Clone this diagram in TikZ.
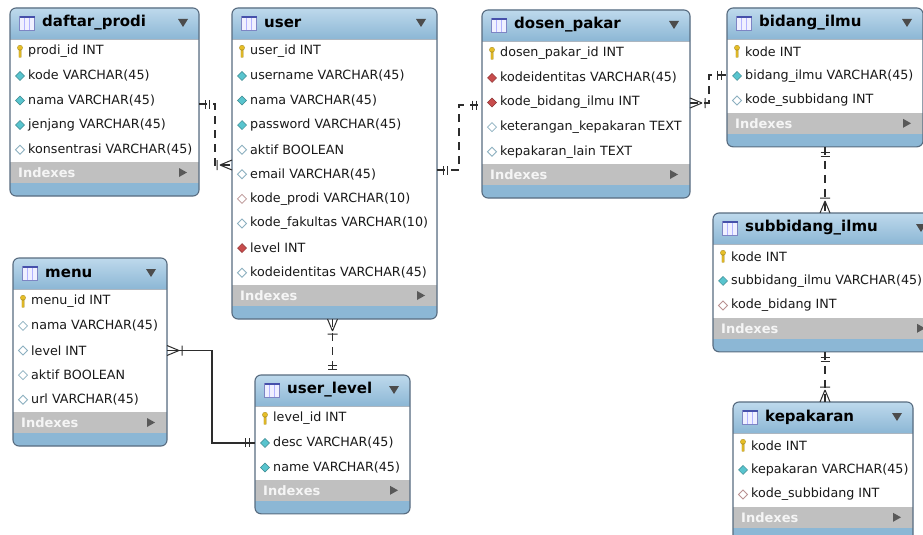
\documentclass[tikz,border=0pt]{standalone}
\usepackage{fontspec}
\setmainfont{DejaVu Sans}
\usetikzlibrary{calc}

\definecolor{hdtop}{RGB}{190,217,236}
\definecolor{hdbot}{RGB}{140,183,213}
\definecolor{frame}{RGB}{88,108,128}
\definecolor{idxbar}{RGB}{192,192,192}
\definecolor{keyc}{RGB}{230,190,40}
\definecolor{cyanc}{RGB}{88,196,206}
\definecolor{redc}{RGB}{200,76,76}
\definecolor{hollowc}{RGB}{140,176,192}
\definecolor{pinkc}{RGB}{186,146,146}
\definecolor{linec}{RGB}{45,45,45}
\definecolor{tblc}{RGB}{70,80,170}

\tikzset{
  tframe/.style={rectangle, fill=hdbot, inner sep=0pt, outer sep=0pt, rounded corners=6pt},
  rowtxt/.style={anchor=west, inner sep=0pt, font=\fontsize{12.7}{14}\selectfont, text=black!90},
  ttl/.style={anchor=west, inner sep=0pt, font=\fontsize{15}{17}\selectfont\bfseries},
  idx/.style={anchor=west, inner sep=0pt, font=\fontsize{13}{15}\selectfont\bfseries, text=white!96!black},
  rel/.style={draw=linec, line width=1.2pt, dash pattern=on 8pt off 6pt},
  idrel/.style={draw=linec, line width=1.2pt},
  % field icons
  ico-k/.pic={\fill[keyc, draw=keyc!70!black, line width=0.3pt] (0,-3.5) circle (2.6) (-1.1,-1.5) rectangle (1.1,6);},
  ico-c/.pic={\draw[cyanc!70!black, fill=cyanc, line width=0.5pt] (-4.5,0) -- (0,-4.5) -- (4.5,0) -- (0,4.5) -- cycle;},
  ico-o/.pic={\draw[hollowc, fill=white, line width=0.8pt] (-4.5,0) -- (0,-4.5) -- (4.5,0) -- (0,4.5) -- cycle;},
  ico-p/.pic={\draw[pinkc, fill=white, line width=0.8pt] (-4.5,0) -- (0,-4.5) -- (4.5,0) -- (0,4.5) -- cycle;},
  ico-r/.pic={\draw[redc!70!black, fill=redc, line width=0.5pt] (-4.5,0) -- (0,-4.5) -- (4.5,0) -- (0,4.5) -- cycle;},
  ico-tbl/.pic={
    \draw[tblc!70, fill=blue!6, line width=0.6pt] (-7.5,-7) rectangle (7.5,7);
    \fill[tblc] (-7.5,-7) rectangle (7.5,-5);
    \draw[blue!30, line width=0.6pt] (-2.5,-5) -- (-2.5,7) (2.5,-5) -- (2.5,7);},
  % relation ends
  one only/.pic={\draw[linec, line width=1pt] (-6,-4.5) -- (-6,4.5) (-10,-4.5) -- (-10,4.5);},
  one many/.pic={\draw[linec, line width=1pt] (-12,0) -- (0,-5) (-12,0) -- (0,5) (-15,-5) -- (-15,5);},
}

\begin{document}
\begin{tikzpicture}[x=1pt, y=-1pt]

  \useasboundingbox (0,0) rectangle (923,535);
  \clip (0,0) rectangle (923,535);
  \fill[white] (0,0) rectangle (923,535);

  % name, left, top, width, title, rows, fields
  \newcommand\tbl[7]{%
    \pgfmathsetmacro\tbh{31+#6*24.6+21+13}
    \pgfmathsetmacro\tbb{#3+31+#6*24.6}
    \node[tframe, minimum width=#4, minimum height=\tbh, anchor=north west] (#1) at (#2,#3) {};
    \shade[top color=hdtop, bottom color=hdbot] (#2,#3+31) [rounded corners=6pt] -- (#2,#3) -- (#2+#4,#3) [sharp corners] -- (#2+#4,#3+31) -- cycle;
    \fill[white] (#2,#3+31) rectangle (#2+#4,\tbb);
    \fill[idxbar] (#2,\tbb) rectangle (#2+#4,\tbb+21);
    \draw[frame!50, line width=0.5pt] (#2,#3+31) -- (#2+#4,#3+31);
    \pic at (#2+17,#3+15) {ico-tbl};
    \node[ttl] (#1-t) at (#2+32,#3+15) {#5};
    \fill[black!70] (#2+#4-21,#3+11) -- (#2+#4-11,#3+11) -- (#2+#4-16,#3+19) -- cycle;
    \foreach \ic/\tx [count=\i] in {#7} {
      \pic at (#2+10,{#3+31+(\i-0.5)*24.6}) {ico-\ic};
      \node[rowtxt] (#1-\i) at (#2+18,{#3+31+(\i-0.5)*24.6}) {\tx};
    }
    \node[idx] (#1-x) at (#2+8,\tbb+10.5) {Indexes};
    \fill[black!65] (#2+#4-20,\tbb+6) -- (#2+#4-20,\tbb+15) -- (#2+#4-12,\tbb+10.5) -- cycle;
    \draw[frame, line width=1.1pt, rounded corners=6pt] (#1.north west) rectangle (#1.south east);
  }

  \tbl{dp}{10}{8}{189}{daftar\_prodi}{5}{k/prodi\_id INT, c/kode VARCHAR(45), c/nama VARCHAR(45), c/jenjang VARCHAR(45), o/konsentrasi VARCHAR(45)}
  \tbl{u}{232}{8}{205}{user}{10}{k/user\_id INT, c/username VARCHAR(45), c/nama VARCHAR(45), c/password VARCHAR(45), o/aktif BOOLEAN, o/email VARCHAR(45), p/kode\_prodi VARCHAR(10), o/kode\_fakultas VARCHAR(10), r/level INT, o/kodeidentitas VARCHAR(45)}
  \tbl{dk}{482}{10}{208}{dosen\_pakar}{5}{k/dosen\_pakar\_id INT, r/kodeidentitas VARCHAR(45), r/kode\_bidang\_ilmu INT, o/keterangan\_kepakaran TEXT, o/kepakaran\_lain TEXT}
  \tbl{bi}{727}{8}{196}{bidang\_ilmu}{3}{k/kode INT, c/bidang\_ilmu VARCHAR(45), o/kode\_subbidang INT}
  \tbl{sb}{713}{213}{224}{subbidang\_ilmu}{3}{k/kode INT, c/subbidang\_ilmu VARCHAR(45), p/kode\_bidang INT}
  \tbl{kp}{733}{402}{180}{kepakaran}{3}{k/kode INT, c/kepakaran VARCHAR(45), p/kode\_subbidang INT}
  \tbl{mn}{13}{258}{154}{menu}{5}{k/menu\_id INT, o/nama VARCHAR(45), o/level INT, o/aktif BOOLEAN, o/url VARCHAR(45)}
  \tbl{ul}{255}{375}{155}{user\_level}{3}{k/level\_id INT, c/desc VARCHAR(45), c/name VARCHAR(45)}

  % relation end points
  \coordinate (dp-u) at ($(dp.north east)+(0,96)$);
  \coordinate (u-dp) at ($(u.north west)+(0,157)$);
  \coordinate (u-dk) at ($(u.north east)+(0,162)$);
  \coordinate (dk-u) at ($(dk.north west)+(0,95)$);
  \coordinate (dk-bi) at ($(dk.north east)+(0,93)$);
  \coordinate (bi-dk) at ($(bi.north west)+(0,67)$);

  % relations
  \draw[rel] (dp-u) -- ++(16,0) |- (u-dp);
  \pic[rotate=180] at (dp-u) {one only};
  \pic at (u-dp) {one many};

  \draw[rel] (u-dk) -- ++(22,0) |- (dk-u);
  \pic[rotate=180] at (u-dk) {one only};
  \pic at (dk-u) {one only};

  \draw[rel] (dk-bi) -- ++(19,0) |- (bi-dk);
  \pic[rotate=180] at (dk-bi) {one many};
  \pic at (bi-dk) {one only};

  \draw[rel] (bi.south) -- (bi.south |- sb.north);
  \pic[rotate=90] at (bi.south) {one only};
  \pic[rotate=-90] at (bi.south |- sb.north) {one many};

  \draw[rel] (bi.south |- sb.south) -- (bi.south |- kp.north);
  \pic[rotate=90] at (bi.south |- sb.south) {one only};
  \pic[rotate=-90] at (bi.south |- kp.north) {one many};

  \draw[rel] (ul.north |- u.south) -- (ul.north);
  \pic[rotate=90] at (ul.north |- u.south) {one many};
  \pic[rotate=-90] at (ul.north) {one only};

  \draw[idrel] (mn.east |- mn-3) -- ++(45,0) |- (ul.west |- ul-2);
  \pic[rotate=180] at (mn.east |- mn-3) {one many};
  \pic at (ul.west |- ul-2) {one only};

\end{tikzpicture}
\end{document}
